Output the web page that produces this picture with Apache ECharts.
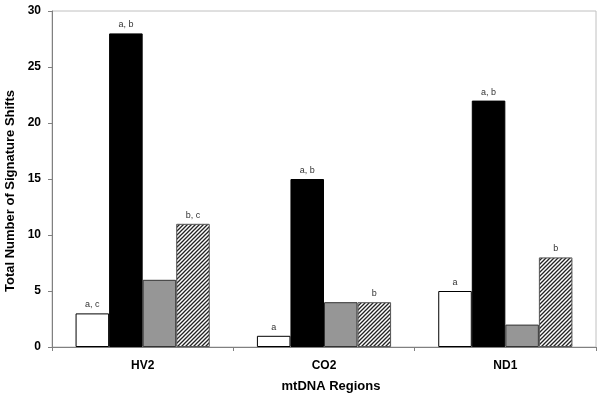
<!DOCTYPE html>
<html>
<head>
<meta charset="utf-8">
<script src="https://cdn.jsdelivr.net/npm/echarts@6/dist/echarts.min.js"></script>
<style>html,body{margin:0;padding:0;background:#fff;}#c{width:600px;height:397px;}</style>
</head>
<body>
<div id="c"></div>
<script>
var categories = ['HV2', 'CO2', 'ND1'];
var seriesWhite = [3, 1, 5];
var seriesBlack = [28, 15, 22];
var seriesGray = [6, 4, 2];
var seriesHatch = [11, 4, 8];
var labelsWhite = ['a, c', 'a', 'a'];
var labelsBlack = ['a, b', 'a, b', 'a, b'];
var labelsGray = ['', '', ''];
var labelsHatch = ['b, c', 'b', 'b'];
var yTicks = {min: 0, max: 30, interval: 5};

function makeHatch() {
  var c = document.createElement('canvas');
  c.width = 4; c.height = 4;
  var ctx = c.getContext('2d');
  ctx.fillStyle = '#ffffff';
  ctx.fillRect(0, 0, 4, 4);
  ctx.strokeStyle = '#222222';
  ctx.lineWidth = 1.3;
  ctx.beginPath();
  ctx.moveTo(-1, 5); ctx.lineTo(5, -1);
  ctx.moveTo(-1, 1); ctx.lineTo(1, -1);
  ctx.moveTo(3, 5); ctx.lineTo(5, 3);
  ctx.stroke();
  return c;
}

function withLabels(vals, labels) {
  return vals.map(function (v, i) { return {value: v, label: {formatter: labels[i]}}; });
}

var font = 'Arial, "Liberation Sans", sans-serif';
var barLabel = {show: true, position: 'top', distance: 4, fontSize: 9, color: '#333', fontFamily: font};

var chart = echarts.init(document.getElementById('c'), null, {renderer: 'canvas'});
chart.setOption({
  animation: false,
  backgroundColor: '#ffffff',
  grid: {left: 52, right: 4, top: 11, bottom: 50, show: true, borderColor: '#c0c0c0', borderWidth: 1,
         containLabel: false, outerBoundsMode: 'none'},
  xAxis: {
    type: 'category',
    data: categories,
    name: 'mtDNA Regions',
    nameLocation: 'middle',
    nameGap: 33,
    nameTextStyle: {fontSize: 13, fontWeight: 'bold', color: '#000', fontFamily: font, padding: [0, 0, 0, 14]},
    axisLine: {lineStyle: {color: '#808080', width: 1}},
    axisTick: {show: true, length: 4, lineStyle: {color: '#808080'}},
    axisLabel: {fontSize: 12, fontWeight: 'bold', color: '#000', fontFamily: font, margin: 13},
    splitLine: {show: false}
  },
  yAxis: {
    type: 'value',
    min: yTicks.min, max: yTicks.max, interval: yTicks.interval,
    name: 'Total Number of Signature Shifts',
    nameLocation: 'middle',
    nameGap: 28,
    nameTextStyle: {fontSize: 13, fontWeight: 'bold', color: '#000', fontFamily: font, padding: [0, 24, 0, 0]},
    axisLine: {show: true, lineStyle: {color: '#808080', width: 1}},
    axisTick: {show: true, length: 4, lineStyle: {color: '#808080'}},
    axisLabel: {fontSize: 12, fontWeight: 'bold', color: '#000', fontFamily: font, margin: 11},
    splitLine: {show: false}
  },
  series: [
    {type: 'bar', data: withLabels(seriesWhite, labelsWhite), barGap: '0%', barCategoryGap: '26%',
     itemStyle: {color: '#ffffff', borderColor: '#000', borderWidth: 1}, label: barLabel},
    {type: 'bar', data: withLabels(seriesBlack, labelsBlack),
     itemStyle: {color: '#000000', borderColor: '#000', borderWidth: 1}, label: barLabel},
    {type: 'bar', data: withLabels(seriesGray, labelsGray),
     itemStyle: {color: '#969696', borderColor: '#333', borderWidth: 1}, label: barLabel},
    {type: 'bar', data: withLabels(seriesHatch, labelsHatch),
     itemStyle: {color: {image: makeHatch(), repeat: 'repeat'}, borderColor: '#555', borderWidth: 1}, label: barLabel}
  ]
});
</script>
</body>
</html>
